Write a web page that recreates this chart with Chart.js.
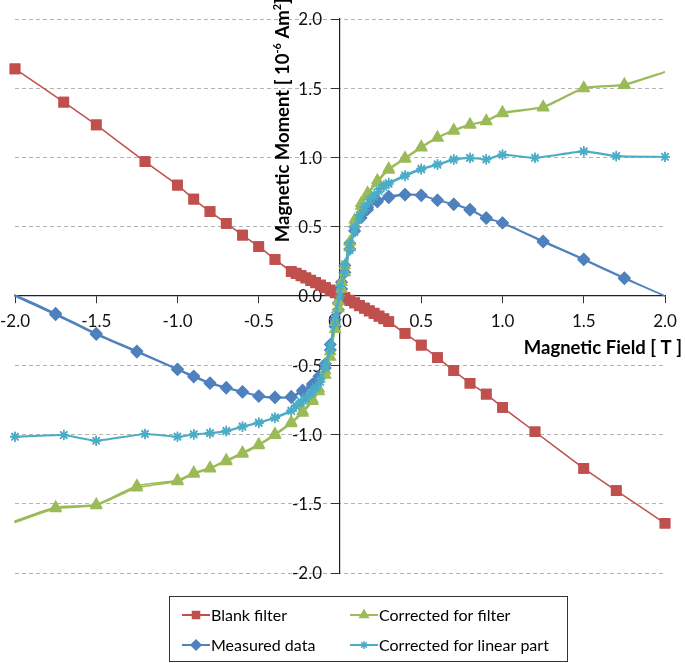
<!DOCTYPE html>
<html>
<head>
<meta charset="utf-8">
<script src="https://cdn.jsdelivr.net/npm/chart.js@4.4.1/dist/chart.umd.min.js"></script>
<style>
  html, body { margin: 0; padding: 0; background: #fff; }
</style>
</head>
<body>
<canvas id="magChart" width="685" height="663"></canvas>
<script>
// field points (T) - measured / corrected-for-filter sweep
const fieldBG = [2.0, 1.75, 1.5, 1.25, 1.0, 0.9, 0.8, 0.7, 0.6, 0.5, 0.4, 0.3, 0.23, 0.17, 0.13, 0.09, 0.06, 0.03, 0.01,
  -0.01, -0.03, -0.06, -0.09, -0.13, -0.17, -0.23, -0.3, -0.4, -0.5, -0.6, -0.7, -0.8, -0.9, -1.0, -1.25, -1.5, -1.75, -2.0];
// field points (T) - blank filter / linear-corrected sweep
const fieldRC = [2.0, 1.7, 1.5, 1.2, 1.0, 0.9, 0.8, 0.7, 0.6, 0.5, 0.4, 0.3, 0.27, 0.24, 0.21, 0.18, 0.15, 0.12, 0.09, 0.06, 0.03, 0,
  -0.03, -0.06, -0.09, -0.12, -0.15, -0.18, -0.21, -0.24, -0.27, -0.3, -0.4, -0.5, -0.6, -0.7, -0.8, -0.9, -1.0, -1.2, -1.5, -1.7, -2.0];

// moments (10^-6 Am2), "Down" = sweep from +2 T, "Up" = sweep back from -2 T
const measuredDown = [0.0, 0.132, 0.267, 0.397, 0.529, 0.566, 0.626, 0.664, 0.693, 0.729, 0.734, 0.72, 0.69, 0.64, 0.585, 0.50, 0.38, 0.22, 0.10,
  -0.05, -0.17, -0.35, -0.49, -0.58, -0.635, -0.68, -0.725, -0.73, -0.72, -0.69, -0.66, -0.626, -0.578, -0.527, -0.397, -0.27, -0.125, 0.007];
const measuredUp = [0.0, 0.125, 0.262, 0.39, 0.527, 0.56, 0.62, 0.66, 0.69, 0.725, 0.73, 0.71, 0.68, 0.625, 0.565, 0.47, 0.34, 0.17, 0.05,
  -0.10, -0.22, -0.39, -0.52, -0.60, -0.65, -0.69, -0.732, -0.735, -0.725, -0.695, -0.665, -0.632, -0.585, -0.532, -0.405, -0.278, -0.135, 0.0];

const filterCorrDown = [1.62, 1.528, 1.504, 1.367, 1.326, 1.266, 1.24, 1.199, 1.146, 1.078, 0.998, 0.92, 0.835, 0.745, 0.67, 0.55, 0.39, 0.22, 0.10,
  -0.04, -0.19, -0.40, -0.54, -0.67, -0.745, -0.83, -0.91, -0.995, -1.07, -1.13, -1.185, -1.24, -1.275, -1.33, -1.37, -1.505, -1.525, -1.625];
const filterCorrUp = [1.615, 1.522, 1.498, 1.36, 1.318, 1.26, 1.235, 1.192, 1.14, 1.07, 0.99, 0.91, 0.82, 0.73, 0.65, 0.52, 0.35, 0.17, 0.05,
  -0.09, -0.24, -0.44, -0.57, -0.69, -0.76, -0.845, -0.92, -1.005, -1.08, -1.14, -1.195, -1.248, -1.285, -1.34, -1.385, -1.512, -1.535, -1.635];

const blankDown = [-1.641, -1.405, -1.244, -0.98, -0.804, -0.708, -0.63, -0.539, -0.445, -0.354, -0.27, -0.186, -0.166, -0.147, -0.128, -0.109, -0.09, -0.071, -0.052, -0.033, -0.014, 0.004,
  0.022, 0.04, 0.058, 0.076, 0.094, 0.111, 0.128, 0.145, 0.161, 0.175, 0.265, 0.356, 0.44, 0.525, 0.609, 0.70, 0.80, 0.97, 1.235, 1.40, 1.64];
const blankUp = [-1.641, -1.405, -1.244, -0.98, -0.804, -0.708, -0.63, -0.539, -0.445, -0.354, -0.27, -0.184, -0.163, -0.143, -0.124, -0.105, -0.086, -0.067, -0.048, -0.029, -0.01, 0.008,
  0.026, 0.044, 0.062, 0.08, 0.098, 0.115, 0.132, 0.149, 0.165, 0.178, 0.265, 0.356, 0.44, 0.525, 0.609, 0.70, 0.80, 0.97, 1.235, 1.40, 1.64];

const linearCorrDown = [1.006, 1.013, 1.047, 1.0, 1.023, 0.989, 1.0, 0.989, 0.953, 0.92, 0.874, 0.818, 0.80, 0.77, 0.735, 0.695, 0.645, 0.585, 0.50, 0.38, 0.23, 0.07,
  -0.14, -0.35, -0.49, -0.60, -0.655, -0.695, -0.73, -0.76, -0.79, -0.825, -0.875, -0.912, -0.94, -0.972, -0.988, -0.997, -1.014, -0.994, -1.043, -1.002, -1.014];
const linearCorrUp = [1.004, 1.008, 1.042, 0.996, 1.018, 0.984, 0.995, 0.982, 0.946, 0.912, 0.865, 0.808, 0.785, 0.755, 0.715, 0.675, 0.62, 0.555, 0.46, 0.33, 0.17, 0.0,
  -0.20, -0.39, -0.52, -0.62, -0.67, -0.71, -0.745, -0.772, -0.80, -0.832, -0.882, -0.918, -0.946, -0.978, -0.993, -1.001, -1.018, -0.998, -1.047, -1.006, -1.018];

const axisMin = -2, axisMax = 2, tickStep = 0.5;
const xTitle = 'Magnetic Field [ T ]';
const yTitleParts = [['Magnetic Moment [ 10', false], ['-6', true], [' Am', false], ['2', true], [']', false]];
const legendRows = [['Blank filter', 'Corrected for filter'], ['Measured data', 'Corrected for linear part']];

const FONT = 'Lato, "Open Sans", sans-serif';

// whole loop: down sweep then back up
function loop(field, down, up) {
  const a = field.map((x, i) => ({ x: x, y: down[i] }));
  const b = field.map((x, i) => ({ x: x, y: up[i] })).reverse();
  return a.concat(b);
}

const noEndMarker = r => ctx => (ctx.raw && Math.abs(ctx.raw.x) === 2 ? 0 : r);

const datasets = [
  { label: 'Blank filter', data: loop(fieldRC, blankDown, blankUp), borderColor: '#C0504D', backgroundColor: '#C0504D',
    pointStyle: 'rect', pointRadius: 6.5, order: 4 },
  { label: 'Corrected for filter', data: loop(fieldBG, filterCorrDown, filterCorrUp), borderColor: '#9BBB59', backgroundColor: '#9BBB59',
    pointStyle: 'triangle', pointRadius: noEndMarker(6), order: 2 },
  { label: 'Measured data', data: loop(fieldBG, measuredDown, measuredUp), borderColor: '#4F81BD', backgroundColor: '#4F81BD',
    pointStyle: 'rectRot', pointRadius: noEndMarker(5.5), order: 3 },
  { label: 'Corrected for linear part', data: loop(fieldRC, linearCorrDown, linearCorrUp), borderColor: '#4BACC6', backgroundColor: '#4BACC6',
    pointStyle: 'star', pointRadius: 5, pointBorderWidth: 1.5, order: 1 }
];
datasets.forEach(d => {
  d.showLine = true; d.borderWidth = 1.5; d.tension = 0.15; d.clip = false;
  d.pointBorderColor = d.borderColor; d.pointBackgroundColor = d.backgroundColor;
  d.pointHoverRadius = d.pointRadius;
});

const tickFmt = v => v.toFixed(1);

// y tick labels sit left of the centred axis (drawn under the data)
const yLabelsPlugin = {
  id: 'yLabels',
  beforeDatasetsDraw(chart) {
    const ctx = chart.ctx;
    const xs = chart.scales.x, ys = chart.scales.y;
    const x0 = xs.getPixelForValue(0);
    ctx.save();
    ctx.fillStyle = '#111';
    ctx.font = '17px ' + FONT;
    ctx.textAlign = 'right';
    ctx.textBaseline = 'middle';
    ys.ticks.forEach(t => ctx.fillText(tickFmt(t.value), x0 - 18, ys.getPixelForValue(t.value) + 1));
    ctx.restore();
  }
};

// axis titles with superscripts, drawn by hand
const titlesPlugin = {
  id: 'titles',
  afterDraw(chart) {
    const ctx = chart.ctx;
    const xs = chart.scales.x, ys = chart.scales.y;
    ctx.save();
    ctx.fillStyle = '#000';
    ctx.font = 'bold 18.5px ' + FONT;
    ctx.textAlign = 'right';
    ctx.textBaseline = 'middle';
    ctx.fillText(xTitle, chart.width - 3, ys.getPixelForValue(0) + 52);

    // y title, rotated
    const big = 'bold 18.5px ' + FONT, small = 'bold 11px ' + FONT;
    let total = 0;
    yTitleParts.forEach(p => { ctx.font = p[1] ? small : big; total += ctx.measureText(p[0]).width; });
    ctx.translate(xs.getPixelForValue(0) - 57, ys.getPixelForValue(1.27));
    ctx.rotate(-Math.PI / 2);
    ctx.textAlign = 'left';
    ctx.textBaseline = 'middle';
    let x = -total / 2;
    yTitleParts.forEach(p => {
      ctx.font = p[1] ? small : big;
      ctx.fillText(p[0], x, p[1] ? -6 : 0);
      x += ctx.measureText(p[0]).width;
    });
    ctx.restore();
  }
};

// boxed 2x2 legend at the bottom
const legendPlugin = {
  id: 'boxLegend',
  afterDraw(chart) {
    const ctx = chart.ctx;
    const box = { l: 169.5, t: 596.5, r: 567.5, b: 661.5 };
    const colX = [182, 350], rowY = [615, 645];
    ctx.save();
    ctx.strokeStyle = '#333';
    ctx.lineWidth = 1;
    ctx.strokeRect(box.l, box.t, box.r - box.l, box.b - box.t);
    ctx.font = '16px ' + FONT;
    ctx.textBaseline = 'middle';
    ctx.textAlign = 'left';
    legendRows.forEach((row, ri) => {
      row.forEach((label, ci) => {
        const ds = chart.data.datasets.find(d => d.label === label);
        const x = colX[ci], y = rowY[ri];
        ctx.strokeStyle = ds.borderColor;
        ctx.fillStyle = ds.backgroundColor;
        ctx.lineWidth = 2;
        ctx.beginPath(); ctx.moveTo(x, y); ctx.lineTo(x + 28, y); ctx.stroke();
        ctx.lineWidth = 1.5;
        Chart.helpers.drawPoint(ctx, {
          pointStyle: ds.pointStyle, radius: ds.pointStyle === 'star' ? 4 : 5, rotation: 0, borderWidth: 1.5
        }, x + 14, y);
        ctx.fillStyle = '#000';
        ctx.fillText(label, x + 29, y + 1);
      });
    });
    ctx.restore();
  }
};

new Chart(document.getElementById('magChart'), {
  type: 'scatter',
  data: { datasets: datasets },
  options: {
    responsive: false,
    devicePixelRatio: 1,
    animation: false,
    layout: { autoPadding: false, padding: { left: 15, right: 20, top: 19, bottom: 90 } },
    plugins: { legend: { display: false }, tooltip: { enabled: false } },
    scales: {
      x: {
        type: 'linear', min: axisMin, max: axisMax, position: { y: 0 },
        ticks: { stepSize: tickStep, callback: tickFmt, color: '#111', padding: 8, maxRotation: 0, autoSkip: false,
          font: { family: FONT, size: 17 } },
        grid: { drawOnChartArea: false, tickLength: 7, tickColor: '#333', tickWidth: 1 },
        border: { color: '#222', width: 1.2 },
        afterFit: s => { s.height = 0; s.paddingLeft = 0; s.paddingRight = 0; }
      },
      y: {
        type: 'linear', min: axisMin, max: axisMax, position: { x: 0 },
        ticks: { stepSize: tickStep, display: false },
        grid: { color: c => (c.tick && c.tick.value === 0 ? 'rgba(0,0,0,0)' : '#b3b3b3'), lineWidth: 1,
          tickLength: 8, tickColor: '#333', tickWidth: 1 },
        border: { color: '#222', width: 1.2, dash: [4, 3] },
        afterFit: s => { s.width = 0; s.paddingTop = 0; s.paddingBottom = 0; }
      }
    }
  },
  plugins: [yLabelsPlugin, titlesPlugin, legendPlugin]
});
</script>
</body>
</html>
